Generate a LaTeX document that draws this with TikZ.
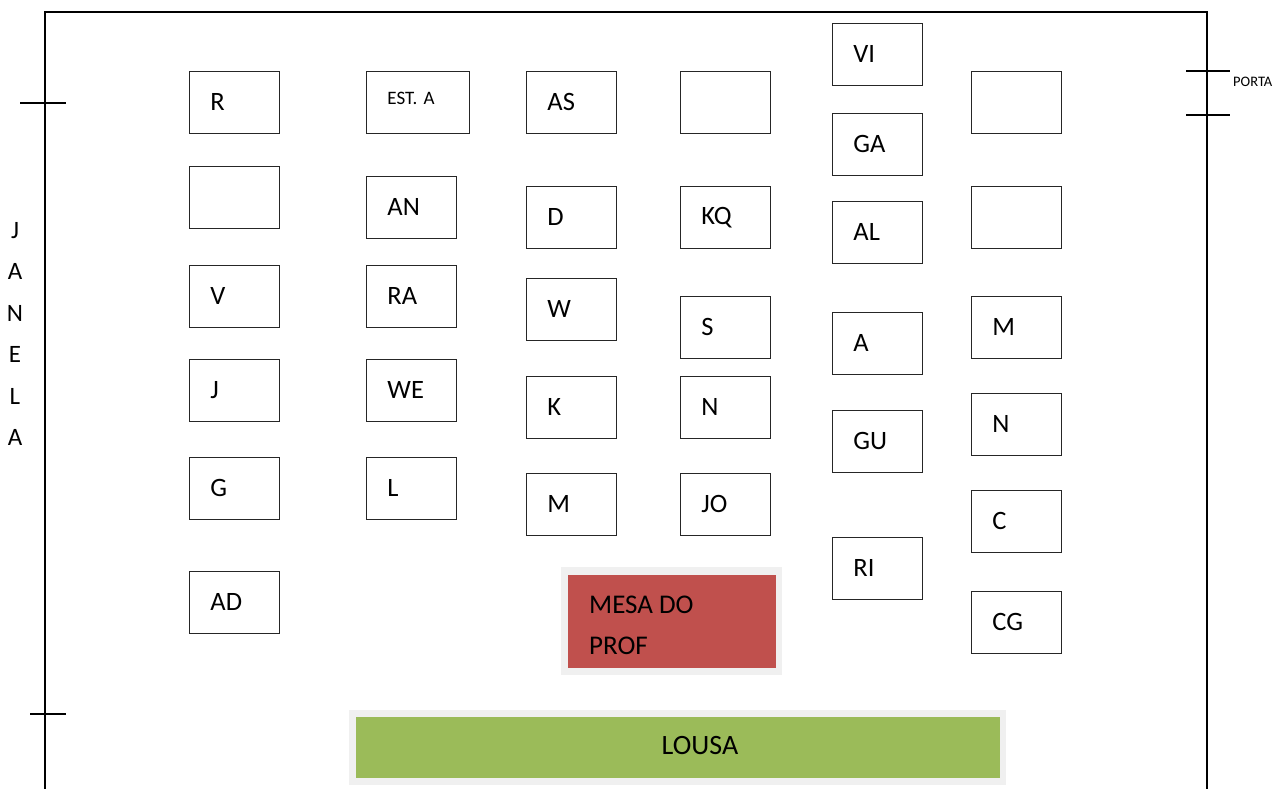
\documentclass[tikz,border=0pt]{standalone}
\usepackage{fontspec}
\setmainfont{Carlito}
\definecolor{mesared}{HTML}{C0504D}
\definecolor{lousagreen}{HTML}{9BBB59}
\definecolor{edgegray}{HTML}{F0F0F0}
\begin{document}
\begin{tikzpicture}[x=1pt,y=-1pt,
  seat/.style={draw=black!85, line width=0.9pt, rectangle, minimum height=62pt,
    text width=48pt, inner xsep=21pt, inner ysep=0pt, align=left, anchor=north west,
    font=\fontsize{26.5}{28}\selectfont},
  wall/.style={line width=2pt},
  tick/.style={line width=1.6pt}]
\useasboundingbox (0,0) rectangle (1275,789);
% room walls
\draw[wall] (45,789) -- (45,12) -- (1207,12) -- (1207,789);
% window marks
\coordinate (w1a) at (20,103); \coordinate (w1b) at (66,103);
\coordinate (w2a) at (30,714); \coordinate (w2b) at (66,714);
\draw[tick] (w1a) -- (w1b);
\draw[tick] (w2a) -- (w2b);
\node[font=\fontsize{25}{41.4}\selectfont, align=center, inner sep=0pt] (janela) at (15,334) {J\\A\\N\\E\\L\\A};
% door marks
\coordinate (p1a) at (1186,71); \coordinate (p1b) at (1230,71);
\coordinate (p2a) at (1186,115); \coordinate (p2b) at (1230,115);
\draw[tick] (p1a) -- (p1b);
\draw[tick] (p2a) -- (p2b);
\node[font=\fontsize{14.5}{16}\selectfont, anchor=west, inner sep=0pt] (porta) at (1233,82) {PORTA};
% column 1
\node[seat] (r)  at (189,71)  {R};
\node[seat] (e1) at (189,166) {};
\node[seat] (v)  at (189,265) {V};
\node[seat] (j)  at (189,359) {J};
\node[seat] (g)  at (189,457) {G};
\node[seat] (ad) at (189,571) {AD};
% column 2
\node[seat, text width=61pt, font=\fontsize{19}{20}\selectfont, minimum height=62pt] (esta) at (366,71) {\raisebox{8pt}{EST. A}};
\node[seat] (an) at (366,176) {AN};
\node[seat] (ra) at (366,265) {RA};
\node[seat] (we) at (366,359) {WE};
\node[seat] (l)  at (366,457) {L};
% column 3
\node[seat] (as) at (526,71)  {AS};
\node[seat] (d)  at (526,186) {D};
\node[seat] (w)  at (526,278) {W};
\node[seat] (k)  at (526,376) {K};
\node[seat] (m1) at (526,473) {M};
% column 4
\node[seat] (e2) at (680,71)  {};
\node[seat] (kq) at (680,186) {KQ};
\node[seat] (s)  at (680,296) {S};
\node[seat] (n1) at (680,376) {N};
\node[seat] (jo) at (680,473) {JO};
% column 5
\node[seat] (vi) at (832,23)  {VI};
\node[seat] (ga) at (832,113) {GA};
\node[seat] (al) at (832,201) {AL};
\node[seat] (a)  at (832,312) {A};
\node[seat] (gu) at (832,410) {GU};
\node[seat] (ri) at (832,537) {RI};
% column 6
\node[seat] (e3) at (971,71)  {};
\node[seat] (e4) at (971,186) {};
\node[seat] (m2) at (971,296) {M};
\node[seat] (n2) at (971,393) {N};
\node[seat] (c)  at (971,490) {C};
\node[seat] (cg) at (971,591) {CG};
% teacher desk
\fill[edgegray] (561,567) rectangle (782,675);
\fill[mesared] (568,575) rectangle (776,668);
\node[anchor=north west, align=left, inner sep=0pt, font=\fontsize{27}{41}\selectfont] (mesa) at (589,596) {MESA DO\\PROF};
% board
\fill[edgegray] (349,710) rectangle (1006,785);
\fill[lousagreen] (356,717) rectangle (1000,778);
\node[font=\fontsize{28}{30}\selectfont, inner sep=0pt] (lousa) at (700,746) {LOUSA};
\end{tikzpicture}
\end{document}
